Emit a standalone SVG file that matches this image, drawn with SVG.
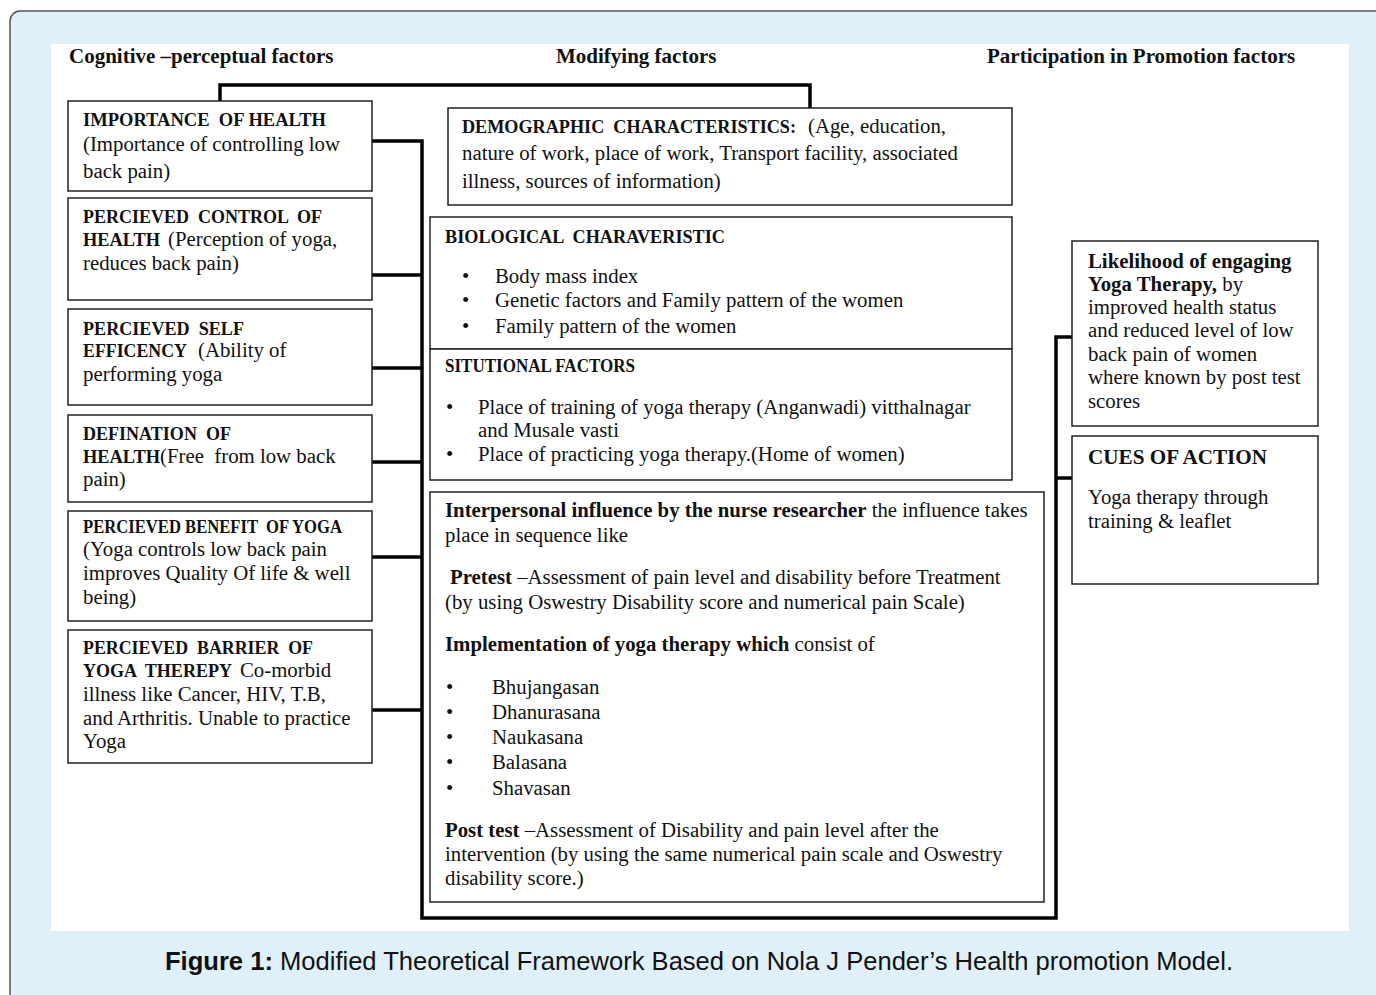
<svg xmlns="http://www.w3.org/2000/svg" width="1376" height="995" viewBox="0 0 1376 995">
<style>
.box{fill:#fff;stroke:#222;stroke-width:1.5}
.con{fill:none;stroke:#000;stroke-width:3.5;stroke-linejoin:miter}
text{font-family:"Liberation Serif","Times New Roman",serif;fill:#111;font-size:20.8px}
.b{font-weight:bold}
.cap{font-size:18px;font-weight:bold;white-space:pre}
.hd{font-size:21px;font-weight:bold}
</style>
<rect x="10" y="11" width="1400" height="1010" rx="10" fill="#dff0fa" stroke="#555" stroke-width="1.5"/>
<rect x="51" y="44" width="1298" height="887" fill="#fff"/>

<g id="headers">
<text class="hd" x="69" y="63">Cognitive –perceptual factors</text>
<text class="hd" x="556" y="63">Modifying factors</text>
<text class="hd" x="987" y="63">Participation in Promotion factors</text>
</g>

<g id="connectors">
<path class="con" d="M220,108 V85 H810 V108"/>
<path class="con" d="M372,141 H422 V918 H1056 V337 H1072"/>
<path class="con" d="M372,275 H422 M372,368 H422 M372,462 H422 M372,557 H422 M372,710 H422 M1056,478 H1072"/>
</g>

<g id="importance">
<rect class="box" x="68" y="101" width="304" height="90"/>
<text x="83" y="126" class="cap" xml:space="preserve" textLength="243" lengthAdjust="spacingAndGlyphs">IMPORTANCE  OF HEALTH</text>
<text x="83" y="151">(Importance of controlling low</text>
<text x="83" y="178">back pain)</text>
</g>

<g id="control">
<rect class="box" x="68" y="198" width="304" height="102"/>
<text x="83" y="223" class="cap" xml:space="preserve" textLength="239" lengthAdjust="spacingAndGlyphs">PERCIEVED  CONTROL  OF</text>
<text x="83" y="246" class="cap" textLength="77" lengthAdjust="spacingAndGlyphs">HEALTH</text>
<text x="168" y="246">(Perception of yoga,</text>
<text x="83" y="270">reduces back pain)</text>
</g>

<g id="efficency">
<rect class="box" x="68" y="309" width="304" height="96"/>
<text x="83" y="335" class="cap" xml:space="preserve" textLength="161" lengthAdjust="spacingAndGlyphs">PERCIEVED  SELF</text>
<text x="83" y="357" class="cap" textLength="104" lengthAdjust="spacingAndGlyphs">EFFICENCY</text>
<text x="198" y="357">(Ability of</text>
<text x="83" y="381">performing yoga</text>
</g>

<g id="defination">
<rect class="box" x="68" y="415" width="304" height="87"/>
<text x="83" y="440" class="cap" xml:space="preserve" textLength="148" lengthAdjust="spacingAndGlyphs">DEFINATION  OF</text>
<text x="83" y="463" class="cap" textLength="77" lengthAdjust="spacingAndGlyphs">HEALTH</text>
<text x="160" y="463" xml:space="preserve">(Free  from low back</text>
<text x="83" y="486">pain)</text>
</g>

<g id="benefit">
<rect class="box" x="68" y="511" width="304" height="110"/>
<text x="83" y="533" class="cap" xml:space="preserve" textLength="259" lengthAdjust="spacingAndGlyphs">PERCIEVED BENEFIT  OF YOGA</text>
<text x="83" y="556">(Yoga controls low back pain</text>
<text x="83" y="580">improves Quality Of life &amp; well</text>
<text x="83" y="604">being)</text>
</g>

<g id="barrier">
<rect class="box" x="68" y="630" width="304" height="133"/>
<text x="83" y="654" class="cap" xml:space="preserve" textLength="230" lengthAdjust="spacingAndGlyphs">PERCIEVED  BARRIER  OF</text>
<text x="83" y="677" class="cap" xml:space="preserve" textLength="149" lengthAdjust="spacingAndGlyphs">YOGA  THEREPY</text>
<text x="240" y="677">Co-morbid</text>
<text x="83" y="701">illness like Cancer, HIV, T.B,</text>
<text x="83" y="725">and Arthritis. Unable to practice</text>
<text x="83" y="748">Yoga</text>
</g>

<g id="demographic">
<rect class="box" x="448" y="108" width="564" height="97"/>
<text x="462" y="133" class="cap" xml:space="preserve" textLength="334" lengthAdjust="spacingAndGlyphs">DEMOGRAPHIC  CHARACTERISTICS:</text>
<text x="808" y="133">(Age, education,</text>
<text x="462" y="160">nature of work, place of work, Transport facility, associated</text>
<text x="462" y="188">illness, sources of information)</text>
</g>

<g id="biological">
<rect class="box" x="430" y="217" width="582" height="132"/>
<text x="445" y="243" class="cap" xml:space="preserve" textLength="280" lengthAdjust="spacingAndGlyphs">BIOLOGICAL  CHARAVERISTIC</text>
<text x="462" y="283">•</text><text x="495" y="283">Body mass index</text>
<text x="462" y="307">•</text><text x="495" y="307">Genetic factors and Family pattern of the women</text>
<text x="462" y="333">•</text><text x="495" y="333">Family pattern of the women</text>
</g>

<g id="situational">
<rect class="box" x="430" y="349" width="582" height="131"/>
<text x="445" y="372" class="cap" textLength="190" lengthAdjust="spacingAndGlyphs">SITUTIONAL FACTORS</text>
<text x="446" y="414">•</text><text x="478" y="414">Place of training of yoga therapy (Anganwadi) vitthalnagar</text>
<text x="478" y="437">and Musale vasti</text>
<text x="446" y="461">•</text><text x="478" y="461">Place of practicing yoga therapy.(Home of women)</text>
</g>

<g id="interpersonal">
<rect class="box" x="430" y="492" width="614" height="410"/>
<text x="445" y="517"><tspan class="b">Interpersonal influence by the nurse researcher</tspan> the influence takes</text>
<text x="445" y="542">place in sequence like</text>
<text x="450" y="584"><tspan class="b">Pretest</tspan> –Assessment of pain level and disability before Treatment</text>
<text x="445" y="609">(by using Oswestry Disability score and numerical pain Scale)</text>
<text x="445" y="651"><tspan class="b">Implementation of yoga therapy which</tspan> consist of</text>
<text x="446" y="694">•</text><text x="492" y="694">Bhujangasan</text>
<text x="446" y="719">•</text><text x="492" y="719">Dhanurasana</text>
<text x="446" y="744">•</text><text x="492" y="744">Naukasana</text>
<text x="446" y="769">•</text><text x="492" y="769">Balasana</text>
<text x="446" y="795">•</text><text x="492" y="795">Shavasan</text>
<text x="445" y="837"><tspan class="b">Post test</tspan> –Assessment of Disability and pain level after the</text>
<text x="445" y="861">intervention (by using the same numerical pain scale and Oswestry</text>
<text x="445" y="885">disability score.)</text>
</g>

<g id="likelihood">
<rect class="box" x="1072" y="241" width="246" height="185"/>
<text x="1088" y="268" class="b">Likelihood of engaging</text>
<text x="1088" y="291"><tspan class="b">Yoga Therapy,</tspan> by</text>
<text x="1088" y="314">improved health status</text>
<text x="1088" y="337">and reduced level of low</text>
<text x="1088" y="361">back pain of women</text>
<text x="1088" y="384">where known by post test</text>
<text x="1088" y="408">scores</text>
</g>

<g id="cues">
<rect class="box" x="1072" y="436" width="246" height="148"/>
<text x="1088" y="464" class="b" textLength="179" lengthAdjust="spacingAndGlyphs">CUES OF ACTION</text>
<text x="1088" y="504">Yoga therapy through</text>
<text x="1088" y="528">training &amp; leaflet</text>
</g>

<g id="caption">
<text x="165" y="970" style="font-family:'Liberation Sans','Noto Sans',sans-serif;font-size:25px" textLength="1068" lengthAdjust="spacingAndGlyphs"><tspan font-weight="bold">Figure 1:</tspan> Modified Theoretical Framework Based on Nola J Pender’s Health promotion Model.</text>
</g>
</svg>
